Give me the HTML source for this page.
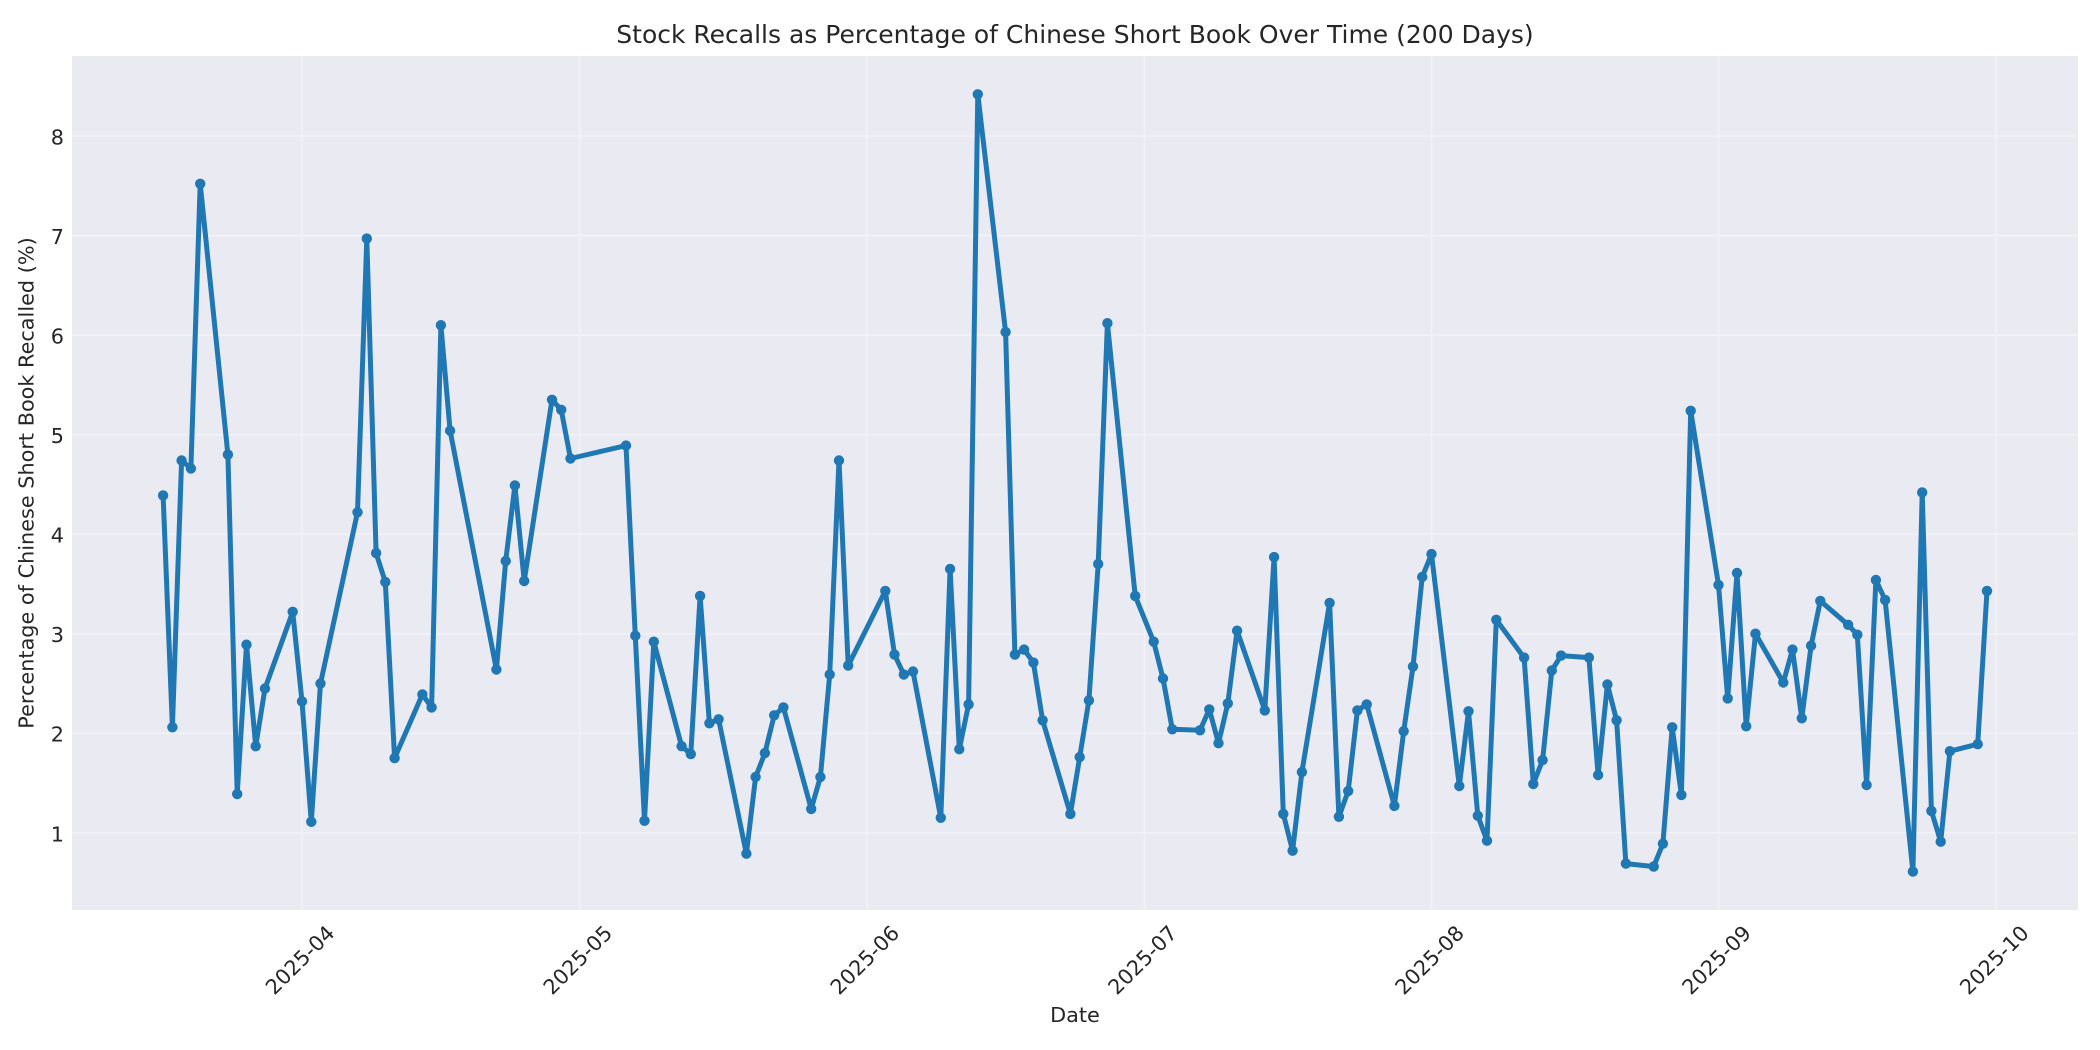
<!DOCTYPE html>
<html>
<head>
<meta charset="utf-8">
<style>
  html, body { margin: 0; padding: 0; background: #ffffff; }
  svg { display: block; }
  text { font-family: "DejaVu Sans", "Liberation Sans", sans-serif; fill: #262626; }
</style>
</head>
<body>
<svg width="2100" height="1050" viewBox="0 0 2100 1050" xmlns="http://www.w3.org/2000/svg">
  <defs>
    <marker id="dot" markerWidth="12" markerHeight="12" refX="6" refY="6" markerUnits="userSpaceOnUse">
      <circle cx="6" cy="6" r="5.2" fill="#1f77b4"/>
    </marker>
  </defs>
  <rect x="0" y="0" width="2100" height="1050" fill="#ffffff"/>
  <!-- axes background -->
  <rect x="72" y="56" width="2006" height="854" fill="#EAEAF2"/>
  <!-- grid -->
  <g stroke="#F3F3F7" stroke-width="1.5">
    <line x1="302" y1="56" x2="302" y2="910"/>
    <line x1="579.7" y1="56" x2="579.7" y2="910"/>
    <line x1="866.7" y1="56" x2="866.7" y2="910"/>
    <line x1="1144.5" y1="56" x2="1144.5" y2="910"/>
    <line x1="1431.5" y1="56" x2="1431.5" y2="910"/>
    <line x1="1718.5" y1="56" x2="1718.5" y2="910"/>
    <line x1="1996.2" y1="56" x2="1996.2" y2="910"/>
    <line x1="72" y1="832.8" x2="2078" y2="832.8"/>
    <line x1="72" y1="733.2" x2="2078" y2="733.2"/>
    <line x1="72" y1="633.7" x2="2078" y2="633.7"/>
    <line x1="72" y1="534.2" x2="2078" y2="534.2"/>
    <line x1="72" y1="434.7" x2="2078" y2="434.7"/>
    <line x1="72" y1="335.1" x2="2078" y2="335.1"/>
    <line x1="72" y1="235.6" x2="2078" y2="235.6"/>
    <line x1="72" y1="136.1" x2="2078" y2="136.1"/>
  </g>
  <!-- y tick labels -->
  <g font-size="20.8" text-anchor="end">
    <text x="64" y="841.3">1</text>
    <text x="64" y="741.7">2</text>
    <text x="64" y="642.2">3</text>
    <text x="64" y="542.7">4</text>
    <text x="64" y="443.2">5</text>
    <text x="64" y="343.6">6</text>
    <text x="64" y="244.1">7</text>
    <text x="64" y="144.6">8</text>
  </g>
  <!-- x tick labels -->
  <g font-size="20.8" text-anchor="middle">
    <text transform="translate(300,960) rotate(-45)" dy="0.35em">2025-04</text>
    <text transform="translate(577.7,960) rotate(-45)" dy="0.35em">2025-05</text>
    <text transform="translate(864.7,960) rotate(-45)" dy="0.35em">2025-06</text>
    <text transform="translate(1142.5,960) rotate(-45)" dy="0.35em">2025-07</text>
    <text transform="translate(1429.5,960) rotate(-45)" dy="0.35em">2025-08</text>
    <text transform="translate(1716.5,960) rotate(-45)" dy="0.35em">2025-09</text>
    <text transform="translate(1994.2,960) rotate(-45)" dy="0.35em">2025-10</text>
  </g>
  <!-- axis labels -->
  <text x="1075" y="1022" font-size="20.8" text-anchor="middle">Date</text>
  <text transform="translate(33.5,483) rotate(-90)" font-size="20.8" text-anchor="middle">Percentage of Chinese Short Book Recalled (%)</text>
  <!-- title -->
  <text x="1075" y="43" font-size="25" text-anchor="middle">Stock Recalls as Percentage of Chinese Short Book Over Time (200 Days)</text>
  <!-- series -->
  <polyline fill="none" stroke="#1f77b4" stroke-width="5" stroke-linejoin="round" stroke-linecap="square"
    marker-start="url(#dot)" marker-mid="url(#dot)" marker-end="url(#dot)"
    points="163.1,495.4 172.4,727.3 181.6,460.5 190.9,468.5 200.2,183.8 227.9,454.6 237.2,794.0 246.5,644.7 255.7,746.2 265.0,688.5 292.7,611.8 302.0,701.4 311.3,821.8 320.5,683.5 357.5,512.3 366.8,238.6 376.1,553.1 385.3,582.0 394.6,758.1 422.4,694.4 431.6,707.4 440.9,325.2 450.1,430.7 496.4,669.5 505.7,561.0 514.9,485.4 524.2,581.0 552.0,399.8 561.2,409.8 570.5,458.5 626.0,445.6 635.3,635.7 644.5,820.8 653.8,641.7 681.6,746.2 690.8,754.1 700.1,595.9 709.4,723.3 718.6,719.3 746.4,853.7 755.6,777.0 764.9,753.1 774.2,715.3 783.4,707.4 811.2,808.9 820.4,777.0 829.7,674.5 839.0,460.5 848.2,665.6 885.3,590.9 894.5,654.6 903.8,674.5 913.0,671.5 940.8,817.8 950.1,569.0 959.3,749.2 968.6,704.4 977.8,94.3 1005.6,332.1 1014.9,654.6 1024.1,649.6 1033.4,662.6 1042.6,720.3 1070.4,813.9 1079.7,757.1 1088.9,700.4 1098.2,564.0 1107.4,323.2 1135.2,595.9 1153.7,641.7 1163.0,678.5 1172.3,729.3 1200.0,730.3 1209.3,709.4 1218.5,743.2 1227.8,703.4 1237.1,630.7 1264.8,710.4 1274.1,557.1 1283.3,813.9 1292.6,850.7 1301.9,772.1 1329.6,602.9 1338.9,816.8 1348.2,791.0 1357.4,710.4 1366.7,704.4 1394.4,805.9 1403.7,731.2 1413.0,666.6 1422.2,577.0 1431.5,554.1 1459.3,786.0 1468.5,711.3 1477.8,815.8 1487.0,840.7 1496.3,619.8 1524.1,657.6 1533.3,784.0 1542.6,760.1 1551.8,670.5 1561.1,655.6 1588.9,657.6 1598.1,775.0 1607.4,684.5 1616.6,720.3 1625.9,863.6 1653.7,866.6 1662.9,843.7 1672.2,727.3 1681.4,794.9 1690.7,410.8 1718.5,584.9 1727.7,698.4 1737.0,573.0 1746.2,726.3 1755.5,633.7 1783.3,682.5 1792.5,649.6 1801.8,718.3 1811.1,645.7 1820.3,600.9 1848.1,624.8 1857.3,634.7 1866.6,785.0 1875.9,580.0 1885.1,599.9 1912.9,871.6 1922.2,492.4 1931.4,810.9 1940.7,841.7 1949.9,751.2 1977.7,744.2 1987.0,590.9"/>
</svg>
</body>
</html>
